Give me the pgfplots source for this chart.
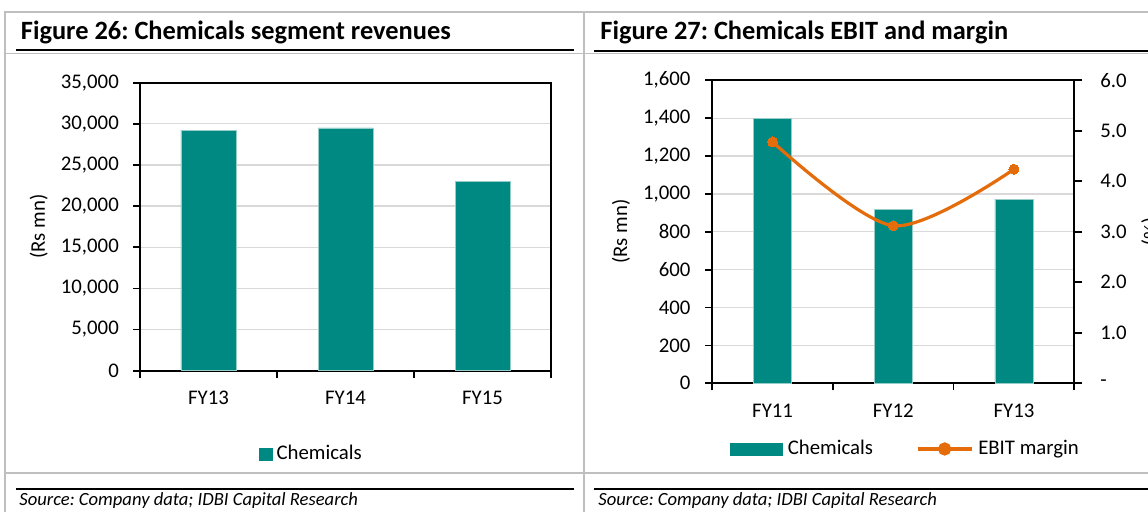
\documentclass[border=0pt]{standalone}
\usepackage{fontspec}
\setmainfont{Carlito}
\usepackage{pgfplots}
\pgfplotsset{compat=1.18}
\frenchspacing
\definecolor{barteal}{RGB}{0,136,130}
\definecolor{baredge}{RGB}{150,205,200}
\definecolor{lineorange}{RGB}{228,108,10}
\definecolor{gridgray}{RGB}{217,217,217}
\definecolor{framegray}{RGB}{191,191,191}
\newcommand\fs{\fontsize{10.4pt}{12pt}\selectfont}
\pgfplotsset{
  common/.style={
    scale only axis,
    xmin=-0.5, xmax=2.5, ymin=0,
    tick align=outside,
    major tick length=3.5pt,
    axis line style={black, line width=0.85pt},
    tick style={black, line width=0.85pt},
    tick label style={font=\fs},
    scaled y ticks=false,
    /pgf/number format/assume math mode=true,
    /pgf/number format/1000 sep={,},
    /pgf/number format/fixed,
  },
}
\begin{document}
\begin{tikzpicture}
\path[use as bounding box] (0,0) rectangle (574pt,-256pt);
\begin{scope}[x=0.5pt,y=-0.5pt]
\draw[framegray, line width=0.85pt] (5,512) -- (5,12) -- (1148,12);
\draw[framegray, line width=0.85pt] (584,12) -- (584,512);
\draw[framegray, line width=0.85pt] (5,53.5) -- (1148,53.5);
\draw[framegray, line width=0.85pt] (5,473) -- (1148,473);
\draw[black, line width=1pt] (16,50.5) -- (574,50.5);
\draw[black, line width=1pt] (594,51.5) -- (1148,51.5);
\draw[black, line width=1pt] (16,489) -- (574,489);
\draw[black, line width=1pt] (594,489) -- (1148,489);
\node[anchor=base west, inner sep=0pt, font=\fontsize{13.2pt}{15pt}\selectfont\bfseries] at (20.5,39.5) {Figure 26: Chemicals segment revenues};
\node[anchor=base west, inner sep=0pt, font=\fontsize{13.2pt}{15pt}\selectfont\bfseries] at (600,39.5) {Figure 27: Chemicals EBIT and margin};
\node[anchor=base west, inner sep=0pt, font=\fontsize{9.3pt}{11pt}\selectfont\itshape] at (19,506) {Source: Company data; IDBI Capital Research};
\node[anchor=base west, inner sep=0pt, font=\fontsize{9.3pt}{11pt}\selectfont\itshape] at (598,506) {Source: Company data; IDBI Capital Research};
\node[rotate=90, inner sep=0pt, font=\fs] at (38.7,226.7) {(Rs mn)};
\node[rotate=90, inner sep=0pt, font=\fs] at (621,231.6) {(Rs mn)};
\node[rotate=-90, anchor=base, inner sep=0pt, font=\fs] at (1144,231.6) {(\%)};
\end{scope}

% Left chart
\begin{axis}[common,
  at={(70pt,-185.35pt)}, anchor=south west,
  width=205.5pt, height=144pt,
  ymax=35000,
  ybar, bar width=27.5pt,
  xtick={-0.5,0.5,1.5,2.5}, xticklabels={},
  extra x ticks={0,1,2}, extra x tick labels={FY13,FY14,FY15},
  extra x tick style={major tick length=0pt},
  ytick={0,5000,...,35000},
  tick pos=left,
  ymajorgrids, grid style={gridgray, line width=0.65pt},
  yticklabel style={anchor=east, inner sep=0pt, xshift=-6.9pt},
  xticklabel style={anchor=base, inner sep=0pt, yshift=-16.8pt},
  legend style={at={(0.2895,-0.2893)}, anchor=west, draw=none, fill=none,
    inner sep=0pt, outer sep=0pt, font=\fs, nodes={inner xsep=2pt, inner ysep=0pt}},
]
\addplot[fill=barteal, draw=baredge, line width=0.3pt,
  legend image code/.code={\fill[barteal] (0pt,-3pt) rectangle (6.5pt,3pt);}]
  coordinates {(0,29250) (1,29500) (2,23000)};
\addlegendentry{Chemicals}
\end{axis}

% Right chart: bars
\begin{axis}[common,
  at={(356.15pt,-191.65pt)}, anchor=south west,
  width=181pt, height=151.5pt,
  ymax=1600,
  ybar, bar width=19pt,
  xtick={-0.5,0.5,1.5,2.5}, xticklabels={},
  extra x ticks={0,1,2}, extra x tick labels={FY11,FY12,FY13},
  extra x tick style={major tick length=0pt},
  ytick={0,200,...,1600},
  tick pos=left,
  ymajorgrids, grid style={gridgray, line width=0.65pt},
  yticklabel style={anchor=east, inner sep=0pt, xshift=-7.2pt},
  xticklabel style={anchor=base, inner sep=0pt, yshift=-17pt},
]
\addplot[fill=barteal, draw=baredge, line width=0.3pt]
  coordinates {(0,1398) (1,920) (2,973)};
\end{axis}

% Right chart: margin line
\begin{axis}[common,
  at={(356.15pt,-191.65pt)}, anchor=south west,
  width=181pt, height=151.5pt,
  ymax=6,
  axis y line*=right, axis x line=none,
  ytick={0,1,2,3,4,5,6},
  yticklabels={-,1.0,2.0,3.0,4.0,5.0,6.0},
  major tick length=4pt,
  yticklabel style={anchor=west, inner sep=0pt, xshift=8.8pt},
  legend columns=2,
  legend style={at={(0.0489,-0.2168)}, anchor=west, draw=none, fill=none,
    inner sep=0pt, outer sep=0pt, font=\fs, nodes={inner xsep=2.5pt, inner ysep=0pt},
    /tikz/every even column/.append style={column sep=19pt}},
]
\addlegendimage{legend image code/.code={\fill[barteal] (0pt,-3pt) rectangle (26pt,3pt);}}
\addlegendentry{Chemicals}
\addplot[lineorange, line width=1.6pt, smooth, mark=*, mark size=2.5pt,
  mark options={fill=lineorange, draw=lineorange, line width=0pt},
  legend image code/.code={\draw[lineorange, line width=1.6pt] (0pt,0pt) -- (27pt,0pt);
    \fill[lineorange] (13.5pt,0pt) circle (2.5pt);}]
  coordinates {(0,4.78) (1,3.12) (2,4.24)};
\addlegendentry{EBIT margin}
\end{axis}
\end{tikzpicture}
\end{document}
